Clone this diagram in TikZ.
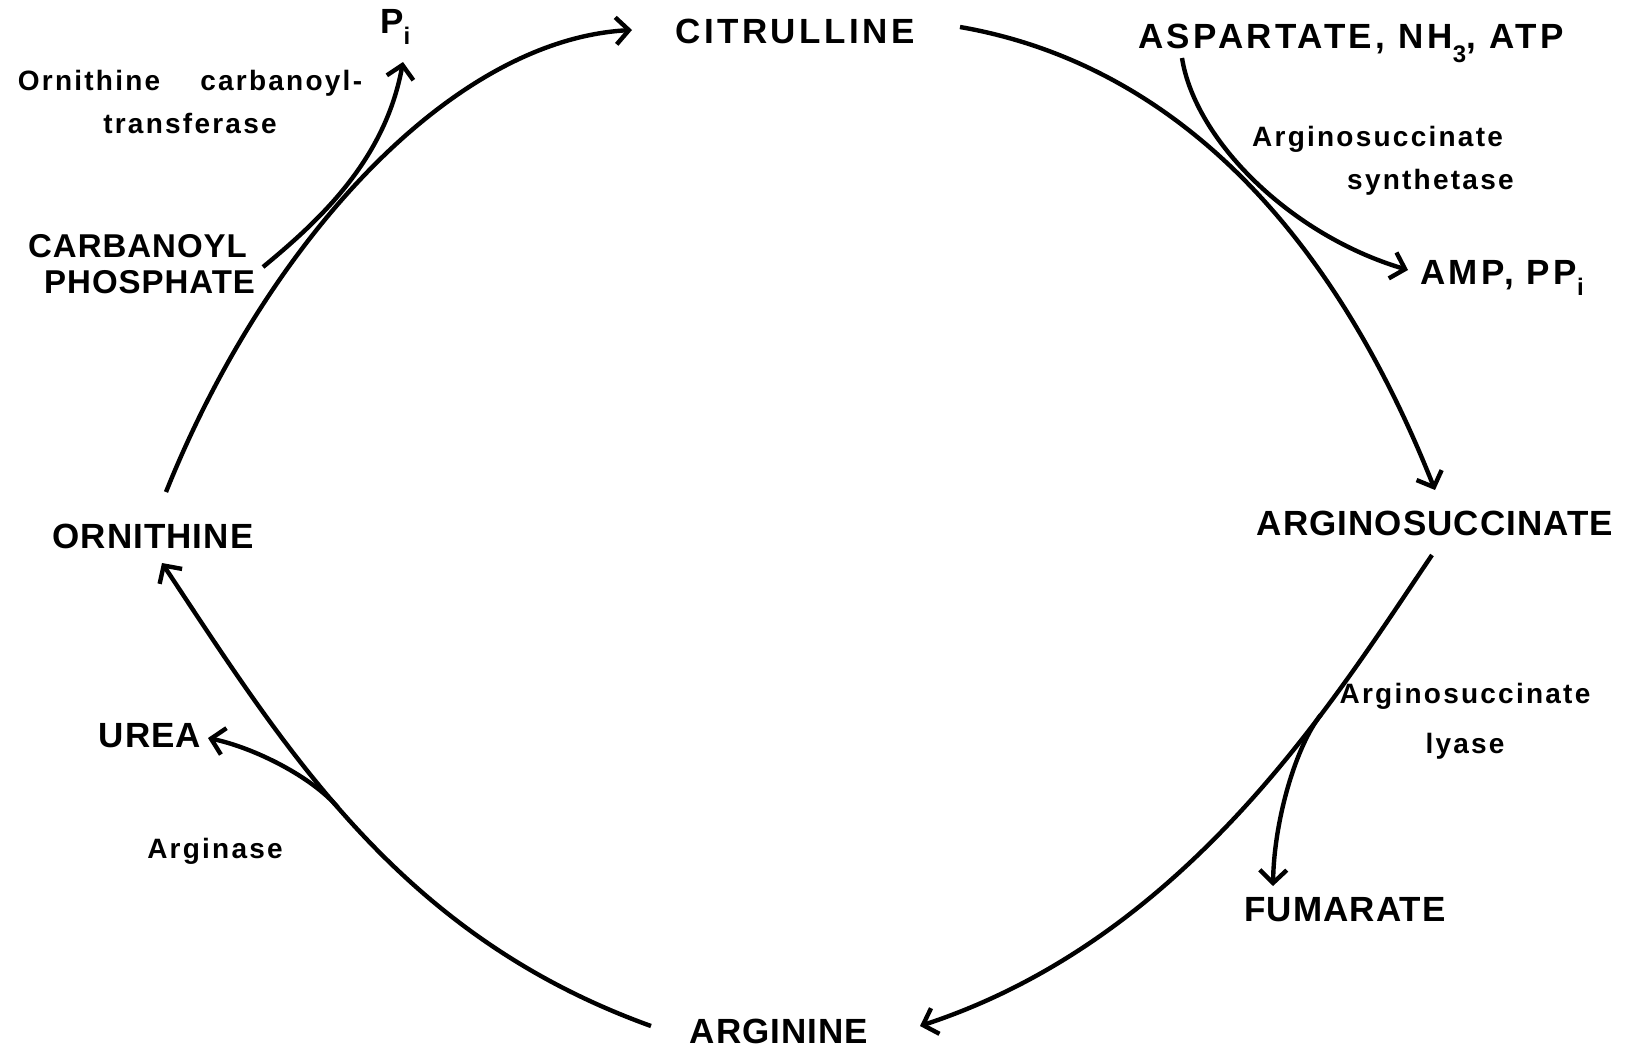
\documentclass[tikz,border=0pt]{standalone}
\usepackage{fontspec}
\setmainfont{Liberation Sans}
\newfontfamily\labfont[LetterSpace=3]{Liberation Sans}
\newfontfamily\widefont[LetterSpace=10]{Liberation Sans}
\newfontfamily\enzfont[LetterSpace=8]{Liberation Sans}
\usetikzlibrary{arrows.meta}
\newcommand\sublow[2]{\raisebox{#1}{\fontsize{24}{24}\selectfont #2}}
\begin{document}
\begin{tikzpicture}[x=1pt,y=-1pt,
  lab/.style={font=\labfont\bfseries\fontsize{35}{38}\selectfont, inner sep=0pt},
  widelab/.style={font=\widefont\bfseries\fontsize{35}{38}\selectfont, inner sep=0pt},
  enz/.style={font=\enzfont\bfseries\fontsize{28}{43}\selectfont, inner sep=0pt, align=center},
  flow/.style={line width=4.4pt, -{Straight Barb[length=13pt,width=27pt]}},
  ]
\useasboundingbox[fill=white] (0,0) rectangle (1625,1052);
% metabolites
\node[widelab] (cit) at (795,31) {CITRULLINE};
\node[lab] (orn) at (153,536) {ORNITHINE};
\node[lab] (arg) at (779,1031) {ARGININE};
\node[lab] (asuc) at (1435,523) {ARGINOSUCCINATE};
\node[lab] (fum) at (1345,910) {FUMARATE};
\node[lab] (urea) at (150,736) {UREA};
\node[lab, anchor=base west] (pi) at (380,33) {P\sublow{-11pt}{i}};
\node[widelab, anchor=base west] (asp) at (1138,48) {ASPARTATE, NH\sublow{-14pt}{3}, ATP};
\node[widelab, anchor=base west] (amp) at (1420,284) {AMP, PP\sublow{-11pt}{i}};
\node[lab, font=\labfont\bfseries\fontsize{33}{36}\selectfont, anchor=west, align=left] (cp) at (28,264) {CARBANOYL\\\hspace*{16pt}PHOSPHATE};
% enzymes
\node[enz] (oct) at (190,102) {Ornithine \hspace{30pt}carbanoyl-\\transferase};
\node[enz, align=left, anchor=west] (syn) at (1252,161) {Arginosuccinate\\\hspace*{95pt}synthetase};
\node[enz, font=\enzfont\bfseries\fontsize{28}{50}\selectfont] (lya) at (1465,721) {Arginosuccinate\\lyase};
\node[enz] (ase) at (215,851) {Arginase};
% connectors
\draw[flow] ([shift={(13,-44)}]orn.center) .. controls (265,245) and (450,40) .. ([shift={(-163,-1)}]cit.center);
\draw[flow] ([shift={(235,3)}]cp.west) .. controls (320,220) and (385,160) .. ([shift={(23,29)}]pi.base west);
\draw[flow] ([shift={(165,-4)}]cit.center) .. controls (1150,60) and (1320,200) .. ([shift={(0,-33)}]asuc.center);
\draw[flow] ([shift={(44,10)}]asp.base west) .. controls (1195,140) and (1290,235) .. ([shift={(-12,-14)}]amp.base west);
\draw[flow] ([shift={(-3,32)}]asuc.center) .. controls (1334,700) and (1188,938) .. ([shift={(141,-5)}]arg.center) coordinate[pos=0.32] (lyb);
\draw[flow] (lyb) .. controls (1296,746) and (1274,820) .. ([shift={(-72,-24)}]fum.center);
\draw[flow] ([shift={(-128,-5)}]arg.center) .. controls (401,936) and (288,753) .. ([shift={(9,27)}]orn.center) coordinate[pos=0.55] (ub);
\draw[flow] (ub) .. controls (312,777) and (255,748) .. ([shift={(58,2)}]urea.center);
\end{tikzpicture}
\end{document}
